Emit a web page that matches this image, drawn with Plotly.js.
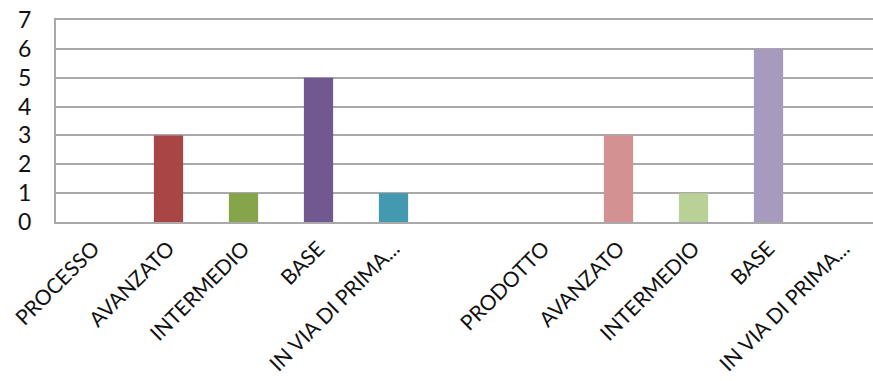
<!DOCTYPE html>
<html>
<head>
<meta charset="utf-8">
<script src="https://cdn.plot.ly/plotly-3.0.1.min.js"></script>
<style>html,body{margin:0;padding:0;background:#fff;}#chart{width:873px;height:381px;}</style>
</head>
<body>
<div id="chart"></div>
<script>
const labels = ["PROCESSO","AVANZATO","INTERMEDIO","BASE","IN VIA DI PRIMA...","","PRODOTTO","AVANZATO","INTERMEDIO","BASE","IN VIA DI PRIMA..."];
const slots = [0,1,2,3,4,5,6,7,8,9,10];
const values = [0,3,1,5,1,null,0,3,1,6,0];
const colors = ["#A84646","#A84646","#86A44A","#715890","#4299B0","#ffffff","#D49191","#D49191","#B9D097","#A89ABE","#8FC3D3"];
const yTicks = [0,1,2,3,4,5,6,7];

Plotly.newPlot("chart", [{
  type: "bar",
  x: slots,
  y: values,
  width: 0.39,
  marker: {color: colors, line: {width: 0}},
  hoverinfo: "none"
}], {
  width: 873, height: 381,
  margin: {l: 56, r: 0, t: 20, b: 159},
  paper_bgcolor: "#fff", plot_bgcolor: "#fff",
  showlegend: false,
  font: {family: "Lato", color: "#000"},
  xaxis: {
    range: [-0.5, 10.393],
    tickvals: slots, ticktext: labels,
    tickangle: -45,
    tickfont: {size: 21, family: "Lato", color: "#111"},
    showgrid: false, zeroline: false,
    showline: true, mirror: true, linecolor: "#A9A9A9", linewidth: 2,
    ticks: "", ticklabelstandoff: 4, fixedrange: true
  },
  yaxis: {
    range: [0, 7],
    tickvals: yTicks,
    tickfont: {size: 23, family: "Lato", color: "#111"},
    showgrid: true, gridcolor: "#A9A9A9", gridwidth: 2,
    zeroline: false,
    showline: true, linecolor: "#A9A9A9", linewidth: 2,
    ticks: "", ticklabelstandoff: 18, fixedrange: true
  }
}, {displayModeBar: false, staticPlot: true});
</script>
</body>
</html>
